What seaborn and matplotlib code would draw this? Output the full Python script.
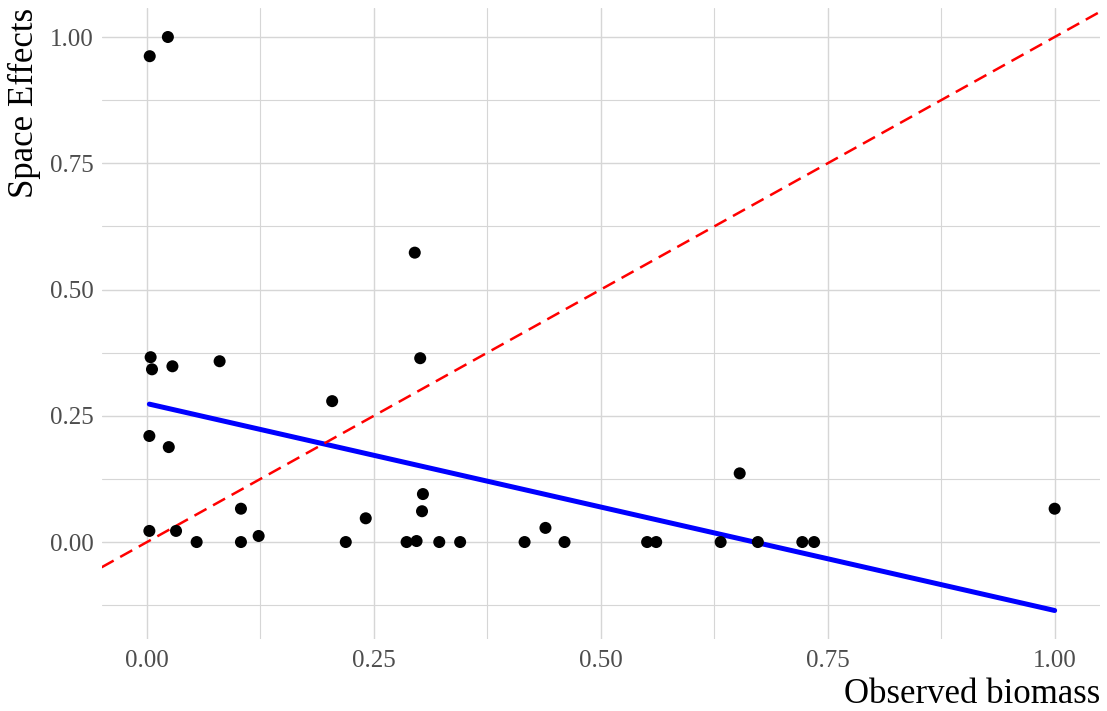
import matplotlib
matplotlib.use("Agg")
import matplotlib.pyplot as plt
import numpy as np
import pandas as pd
import seaborn as sns

# Observed biomass vs. estimated space effects (both scaled to 0-1)
observed_biomass = [
    0.003, 0.023, 0.004, 0.0055, 0.028, 0.080, 0.0026, 0.024, 0.0026, 0.032,
    0.0547, 0.1035, 0.1035, 0.123, 0.204, 0.219, 0.241, 0.295, 0.301, 0.304,
    0.303, 0.286, 0.297, 0.322, 0.345, 0.416, 0.439, 0.460, 0.551, 0.561,
    0.632, 0.673, 0.722, 0.735, 0.653, 1.000,
]
space_effects = [
    0.962, 1.000, 0.366, 0.342, 0.348, 0.358, 0.210, 0.188, 0.022, 0.022,
    0.000, 0.066, 0.000, 0.012, 0.279, 0.000, 0.047, 0.573, 0.364, 0.095,
    0.061, 0.000, 0.002, 0.000, 0.000, 0.000, 0.028, 0.000, 0.000, 0.000,
    0.000, 0.000, 0.000, 0.000, 0.136, 0.066,
]
tick_values = [0.00, 0.25, 0.50, 0.75, 1.00]
tick_labels = ["0.00", "0.25", "0.50", "0.75", "1.00"]
minor_values = [-0.125, 0.125, 0.375, 0.625, 0.875]

df = pd.DataFrame({"obs": observed_biomass, "space": space_effects})

sns.set_theme(style="white")
plt.rcParams["font.family"] = ["Liberation Serif", "DejaVu Serif"]

fig, ax = plt.subplots(figsize=(11.07, 7.11), dpi=100)
fig.subplots_adjust(left=0.0918, right=0.9937, top=0.9883, bottom=0.1014)

grid_col = "#D6D6D6"
ax.set_axisbelow(True)

# linear fit
sns.regplot(data=df, x="obs", y="space", scatter=False, ci=None, truncate=True,
            color="#0000FF", line_kws={"linewidth": 3.6, "zorder": 3}, ax=ax)

# 1:1 reference line
ax.axline((0, 0), slope=1, color="#FF0000", linewidth=1.8,
          linestyle=(0, (5.5, 3)), zorder=4)

sns.scatterplot(data=df, x="obs", y="space", color="black", s=75,
                edgecolor="none", zorder=5, ax=ax)

ax.set_xlim(-0.05, 1.05)
ax.set_ylim(-0.1918, 1.0568)

ax.set_xticks(tick_values)
ax.set_xticklabels(tick_labels)
ax.set_yticks(tick_values)
ax.set_yticklabels(tick_labels)
ax.set_xticks(minor_values[1:], minor=True)
ax.set_yticks(minor_values, minor=True)

ax.grid(which="major", color=grid_col, linewidth=1.0)
ax.grid(which="minor", color=grid_col, linewidth=0.8)
ax.tick_params(which="both", length=0, labelsize=18, labelcolor="#4D4D4D")
ax.tick_params(axis="x", pad=8)
ax.tick_params(axis="y", pad=6)

for spine in ax.spines.values():
    spine.set_visible(False)

ax.set_xlabel("Observed biomass", fontsize=25, color="black", loc="right", labelpad=4)
ax.set_ylabel("Space Effects", fontsize=25, color="black", loc="top", labelpad=6)

fig.savefig("out.png", dpi=100)
